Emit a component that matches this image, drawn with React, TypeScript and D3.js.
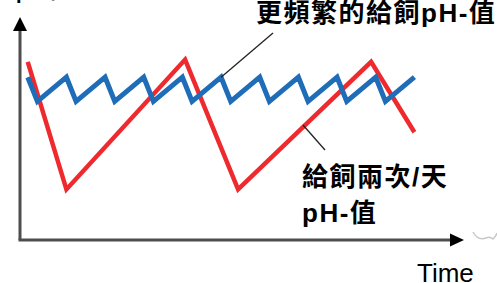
import React from "react";
import * as d3 from "d3";

// Time in feeding-interval units, pH in arbitrary relative units
const blueTimes = [0, 0.25, 1, 1.25, 2, 2.25, 3, 3.25, 4, 4.25, 5, 5.25, 6, 6.25, 7, 7.25, 8, 8.25, 9, 9.25, 10];
const bluePH = [74, 63, 74, 63, 74, 63, 74, 63, 74, 63, 74, 63, 74, 63, 74, 63, 74, 63, 74, 63, 74];
const redTimes = [0, 1, 4.07, 5.44, 8.88, 10];
const redPH = [81, 23, 82, 23, 81, 49];

const titleLabel = "更頻繁的給飼pH-值";
const redLabel1 = "給飼兩次/天";
const redLabel2 = "pH-值";
const xAxisLabel = "Time";
const yAxisLabel = "pH-值";

export default function App() {
  const W = 497, H = 283;
  const x = d3.scaleLinear().domain([-0.2, 11.05]).range([20, 455]);
  const y = d3.scaleLinear().domain([0, 100]).range([240, 20]);
  const line = d3.line<[number, number]>().x(d => x(d[0])).y(d => y(d[1]));
  const blue = line(blueTimes.map((t, i) => [t, bluePH[i]]))!;
  const red = line(redTimes.map((t, i) => [t, redPH[i]]))!;
  const font = "Arial, 'Liberation Sans', 'Noto Sans CJK TC', sans-serif";
  return (
    <svg width={W} height={H} style={{ position: "absolute", left: 0, top: 0, background: "#fff" }}>
      {/* axes */}
      <line x1={20} y1={28} x2={20} y2={240} stroke="#4d4d4d" strokeWidth={3} />
      <line x1={18.5} y1={240} x2={453} y2={240} stroke="#4d4d4d" strokeWidth={3} />
      <path d="M20,17 L27,31 L13,31 Z" fill="#000" />
      <path d="M464,240 L450,233.5 L450,246.5 Z" fill="#000" />
      {/* small grey icon fragment */}
      <path d="M473,232 Q478,241 486,238 Q490,236 493,239 Q496,236 497,233" fill="none" stroke="#c8c8c8" strokeWidth={1.5} />
      {/* series */}
      <path d={red} fill="none" stroke="#ee2a2e" strokeWidth={4.5} strokeLinejoin="miter" />
      <path d={blue} fill="none" stroke="#1f6db8" strokeWidth={5} strokeLinejoin="miter" />
      {/* leader lines */}
      <line x1={x(5)} y1={y(74)} x2={273} y2={33} stroke="#222" strokeWidth={1.3} />
      <line x1={303} y1={125} x2={325} y2={150} stroke="#222" strokeWidth={1.3} />
      {/* labels */}
      <text x={16} y={-1} fontFamily={font} fontWeight="bold" fontSize={20}>{yAxisLabel}</text>
      <text x={256} y={22} fontFamily={font} fontWeight="bold" fontSize={26} letterSpacing={1.5}>{titleLabel}</text>
      <text x={302} y={186} fontFamily={font} fontWeight="bold" fontSize={26} letterSpacing={1.5}>{redLabel1}</text>
      <text x={302} y={222} fontFamily={font} fontWeight="bold" fontSize={26} letterSpacing={1.5}>{redLabel2}</text>
      <text x={417} y={282} fontFamily={font} fontSize={26}>{xAxisLabel}</text>
    </svg>
  );
}
